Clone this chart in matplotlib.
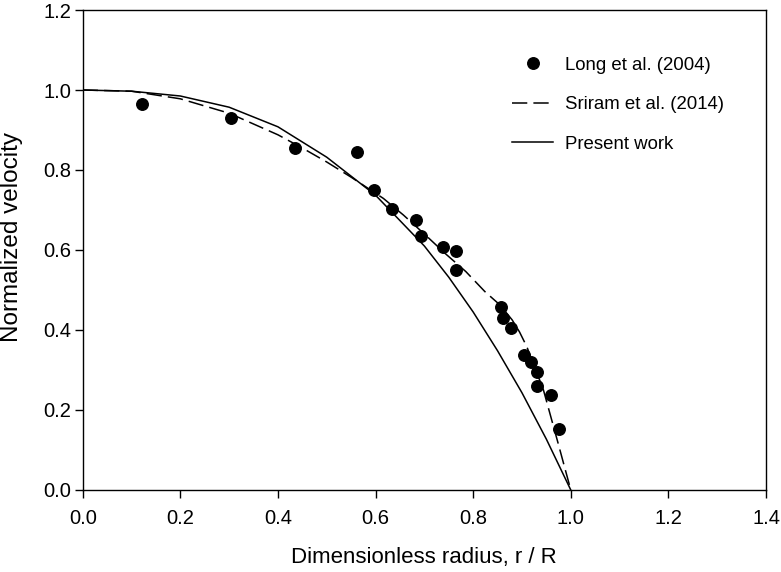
import matplotlib
matplotlib.use("Agg")
import matplotlib.pyplot as plt

plt.rcParams['font.family'] = ['Liberation Sans', 'DejaVu Sans']

# Long et al. (2004) experimental points
long_r = [0.122, 0.304, 0.435, 0.562, 0.597, 0.633, 0.682, 0.693, 0.739, 0.765,
          0.764, 0.858, 0.862, 0.877, 0.905, 0.918, 0.931, 0.930, 0.959, 0.976]
long_u = [0.965, 0.930, 0.856, 0.845, 0.750, 0.702, 0.675, 0.635, 0.608, 0.598,
          0.550, 0.458, 0.431, 0.406, 0.338, 0.319, 0.296, 0.260, 0.238, 0.153]

# Sriram et al. (2014) curve
sriram_r = [0.0, 0.1, 0.2, 0.3, 0.4, 0.45, 0.5, 0.55, 0.616, 0.657, 0.7, 0.742,
            0.785, 0.824, 0.855, 0.88, 0.895, 0.91, 0.944, 0.974, 1.0]
sriram_u = [1.0, 0.997, 0.978, 0.942, 0.888, 0.855, 0.82, 0.782, 0.729, 0.6875,
            0.64, 0.592, 0.546, 0.496, 0.4625, 0.425, 0.395, 0.358, 0.25, 0.117, 0.0]

# Present work curve
present_r = [0.0, 0.1, 0.2, 0.3, 0.4, 0.5, 0.6, 0.7, 0.75, 0.8, 0.85, 0.9, 0.95, 1.0]
present_u = [1.0, 0.997, 0.985, 0.957, 0.908, 0.832, 0.737, 0.610, 0.532, 0.445,
             0.348, 0.243, 0.127, 0.0]

xticks = [0.0, 0.2, 0.4, 0.6, 0.8, 1.0, 1.2, 1.4]
yticks = [0.0, 0.2, 0.4, 0.6, 0.8, 1.0, 1.2]

fig = plt.figure(figsize=(7.81, 5.72), dpi=100)
ax = fig.add_axes([0.1059, 0.1434, 0.8749, 0.8391])

ax.plot(long_r, long_u, 'o', color='black', markersize=8.3, linestyle='none',
        label='Long et al. (2004)')
ax.plot(sriram_r, sriram_u, color='black', lw=1.1, dashes=(10, 4),
        label='Sriram et al. (2014)')
ax.plot(present_r, present_u, color='black', lw=1.1, label='Present work')

ax.set_xlim(0, 1.4)
ax.set_ylim(0, 1.2)
ax.set_xticks(xticks)
ax.set_yticks(yticks)
ax.set_xticklabels([f"{t:.1f}" for t in xticks])
ax.set_yticklabels([f"{t:.1f}" for t in yticks])
ax.tick_params(direction='out', length=5.5, width=1, labelsize=14.5,
               top=False, right=False)
ax.tick_params(axis='x', pad=8)
ax.tick_params(axis='y', pad=3)
for s in ax.spines.values():
    s.set_linewidth(1.0)

ax.set_xlabel('Dimensionless radius, r / R', fontsize=16, labelpad=14)
ax.set_ylabel('Normalized velocity', fontsize=17.5)
ax.yaxis.set_label_coords(-0.087, 0.527)

leg = ax.legend(loc='upper left', bbox_to_anchor=(0.618, 0.918), frameon=False,
                fontsize=13.4, handlelength=2.2, handletextpad=0.65,
                labelspacing=1.2, borderaxespad=0)

fig.savefig('out.png', dpi=100)
